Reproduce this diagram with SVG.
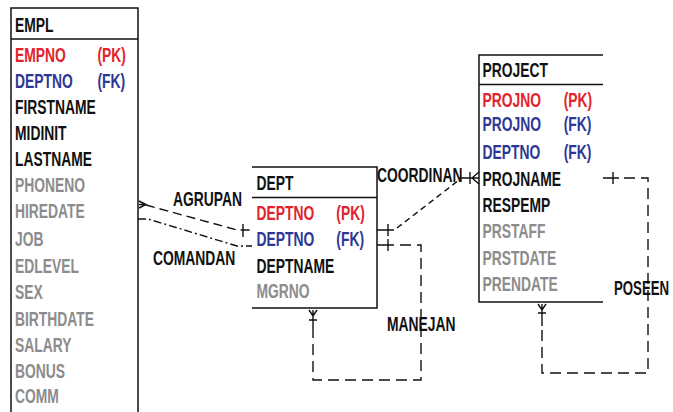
<svg xmlns="http://www.w3.org/2000/svg" width="673" height="412" viewBox="0 0 673 412">
<style>
text{font-family:"Liberation Sans",Arial,sans-serif;font-weight:bold;font-size:21px;fill:#111}
.pk{fill:#e3232b}
.fk{fill:#2e3796}
.g{fill:#8c8c8c}
.box{fill:none;stroke:#111;stroke-width:1.5}
.c{fill:none;stroke:#111;stroke-width:1.4}
.dash{stroke-dasharray:9,5}
.ddot{stroke-dasharray:8,3,2,3}
.sdash{stroke-dasharray:6,4}
.ldash{stroke-dasharray:11,6}
</style>
<rect width="673" height="412" fill="#fff"/>
<g id="connectors">
  <!-- AGRUPAN -->
  <path class="c dash" d="M146,205 L237,230 L252,230"/>
  <path class="c" d="M139,201 L146,204.5 L139,208 M139,204.5 L146,204.5"/>
  <path class="c" d="M243,224 L243,237"/>
  <!-- COMANDAN -->
  <path class="c ddot" d="M138,219 L148,219 L237,246 L252,246"/>
  <!-- COORDINAN -->
  <path class="c" d="M377,230 L394,230 M388,224 L388,236"/>
  <path class="c sdash" d="M397,228 L459,180"/>
  <path class="c" d="M459,178 L479,178 M470,172 L470,184 M472,178 L479,172 M472,178 L479,184"/>
  <!-- MANEJAN -->
  <path class="c" d="M377,245 L394,245 M388,239 L388,251"/>
  <path class="c ldash" d="M400,245 L421,245 L421,380 L313,380 L313,332"/>
  <path class="c" d="M309,310 L313,316 L317,310 M313,310 L313,332 M309,320 L317,320"/>
  <!-- POSEEN -->
  <path class="c" d="M603,178 L619,178 M613,172 L613,184"/>
  <path class="c ldash" d="M624,178 L648,178 L648,373 L542,373 L542,326"/>
  <path class="c" d="M538,304 L542,310 L546,304 M542,304 L542,326 M538,313 L546,313"/>
  <!-- labels -->
  <g transform="translate(173,206) scale(0.66,1)"><text x="0" y="0">AGRUPAN</text></g>
  <g transform="translate(153,265) scale(0.66,1)"><text x="0" y="0">COMANDAN</text></g>
  <g transform="translate(377,182) scale(0.66,1)"><text x="0" y="0">COORDINAN</text></g>
  <g transform="translate(387,331) scale(0.66,1)"><text x="0" y="0">MANEJAN</text></g>
  <g transform="translate(614,295) scale(0.63,1)"><text x="0" y="0">POSEEN</text></g>
</g>
<g id="EMPL">
  <path class="box" d="M11,420 L11,8 L138,8 L138,420 M11,39 L138,39"/>
  <g transform="translate(15,0) scale(0.66,1)">
    <text x="0" y="32">EMPL</text>
    <text x="0" y="62" class="pk">EMPNO</text><text x="125" y="62" class="pk">(PK)</text>
    <text x="0" y="88" class="fk">DEPTNO</text><text x="125" y="88" class="fk">(FK)</text>
    <text x="0" y="114">FIRSTNAME</text>
    <text x="0" y="140">MIDINIT</text>
    <text x="0" y="166.5">LASTNAME</text>
    <text x="0" y="192.5" class="g">PHONENO</text>
    <text x="0" y="218.5" class="g">HIREDATE</text>
    <text x="0" y="246" class="g">JOB</text>
    <text x="0" y="273" class="g">EDLEVEL</text>
    <text x="0" y="299.5" class="g">SEX</text>
    <text x="0" y="326" class="g">BIRTHDATE</text>
    <text x="0" y="352" class="g">SALARY</text>
    <text x="0" y="378" class="g">BONUS</text>
    <text x="0" y="403.5" class="g">COMM</text>
  </g>
</g>
<g id="DEPT">
  <path class="box" d="M252,167 L377,167 L377,308 L252,308 M252,197.5 L377,197.5"/>
  <g transform="translate(256.5,0) scale(0.66,1)">
    <text x="0" y="190">DEPT</text>
    <text x="0" y="220" class="pk">DEPTNO</text><text x="121" y="220" class="pk">(PK)</text>
    <text x="0" y="246.5" class="fk">DEPTNO</text><text x="121" y="246.5" class="fk">(FK)</text>
    <text x="0" y="273">DEPTNAME</text>
    <text x="0" y="298" class="g">MGRNO</text>
  </g>
</g>
<g id="PROJECT">
  <path class="box" d="M603,55 L479,55 L479,302 L603,302 M479,84.5 L603,84.5"/>
  <g transform="translate(482.5,0) scale(0.66,1)">
    <text x="0" y="77">PROJECT</text>
    <text x="0" y="107" class="pk">PROJNO</text><text x="123" y="107" class="pk">(PK)</text>
    <text x="0" y="131" class="fk">PROJNO</text><text x="123" y="131" class="fk">(FK)</text>
    <text x="0" y="159" class="fk">DEPTNO</text><text x="123" y="159" class="fk">(FK)</text>
    <text x="0" y="186">PROJNAME</text>
    <text x="0" y="212">RESPEMP</text>
    <text x="0" y="238.5" class="g">PRSTAFF</text>
    <text x="0" y="265" class="g">PRSTDATE</text>
    <text x="0" y="291.5" class="g">PRENDATE</text>
  </g>
</g>
</svg>
